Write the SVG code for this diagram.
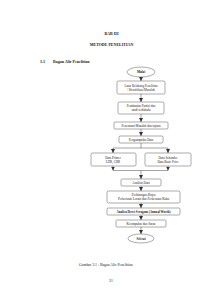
<svg xmlns="http://www.w3.org/2000/svg" width="212" height="300" viewBox="0 0 212 300">
<style>
text{font-family:"Liberation Serif","Times New Roman",serif;fill:#222}
.h{font-size:4px;font-weight:bold}
.t{font-size:3.2px;text-anchor:middle}
.b{fill:#fff;stroke:#444;stroke-width:0.45}
.c{stroke:#333;stroke-width:0.45;fill:none}
</style>
<defs>
<marker id="ah" viewBox="0 0 6 6" refX="6" refY="3" markerWidth="4" markerHeight="4" markerUnits="userSpaceOnUse" orient="auto">
<path d="M0,0 L6,3 L0,6 Z" fill="#333"/>
</marker>
</defs>
<rect width="212" height="300" fill="#fff"/>
<text class="h" x="111.5" y="35" text-anchor="middle">BAB III</text>
<text class="h" x="111.5" y="46" text-anchor="middle">METODE PENELITIAN</text>
<text class="h" x="40" y="63">3.1</text>
<text class="h" x="53" y="63">Bagan Alir Penelitian</text>

<g id="connectors">
<line class="c" x1="141" y1="77" x2="141" y2="81" marker-end="url(#ah)"/>
<line class="c" x1="141" y1="94" x2="141" y2="102" marker-end="url(#ah)"/>
<line class="c" x1="141" y1="114" x2="141" y2="122" marker-end="url(#ah)"/>
<line class="c" x1="141" y1="129" x2="141" y2="136" marker-end="url(#ah)"/>
<polyline class="c" points="141,143 141,148"/>
<line class="c" x1="113" y1="148" x2="168" y2="148"/>
<line class="c" x1="113" y1="148" x2="113" y2="153" marker-end="url(#ah)"/>
<line class="c" x1="168" y1="148" x2="168" y2="153" marker-end="url(#ah)"/>
<line class="c" x1="113" y1="166" x2="113" y2="170.5" marker-end="url(#ah)"/>
<line class="c" x1="168" y1="166" x2="168" y2="170.5" marker-end="url(#ah)"/>
<line class="c" x1="113" y1="170.5" x2="168" y2="170.5"/>
<line class="c" x1="141" y1="170.5" x2="141" y2="179" marker-end="url(#ah)"/>
<line class="c" x1="141" y1="186" x2="141" y2="191" marker-end="url(#ah)"/>
<line class="c" x1="141" y1="203" x2="141" y2="208" marker-end="url(#ah)"/>
<line class="c" x1="141" y1="215" x2="141" y2="220" marker-end="url(#ah)"/>
<line class="c" x1="141" y1="227" x2="141" y2="234" marker-end="url(#ah)"/>
</g>

<g id="mulai">
<ellipse class="b" cx="141" cy="72" rx="14" ry="5" stroke-width="0.6"/>
<text class="t" x="141" y="73.2" font-weight="bold">Mulai</text>
</g>
<g id="latar">
<rect class="b" x="117" y="81" width="48" height="13" rx="1.5"/>
<text class="t" x="141" y="86.5">Latar Belakang Penelitian</text>
<text class="t" x="141" y="90.5">/ Identifikasi Masalah</text>
</g>
<g id="pembuatan">
<rect class="b" x="118" y="102" width="46" height="12" rx="1.5"/>
<text class="t" x="141" y="107">Pembuatan Partisi dan</text>
<text class="t" x="141" y="111">studi terdahulu</text>
</g>
<g id="penentuan">
<rect class="b" x="114" y="122" width="54" height="7" rx="1.2"/>
<text class="t" x="141" y="126.5">Penentuan Masalah dan tujuan</text>
</g>
<g id="pengumpulan">
<rect class="b" x="119" y="136" width="44" height="7" rx="1.2"/>
<text class="t" x="141" y="140.5">Pengumpulan Data</text>
</g>
<g id="primer">
<rect class="b" x="91" y="153" width="45" height="13" rx="1.5"/>
<text class="t" x="113" y="158.5">Data Primer</text>
<text class="t" x="113" y="162.5">LHR, CBR</text>
</g>
<g id="sekunder">
<rect class="b" x="145" y="153" width="46" height="13" rx="1.5"/>
<text class="t" x="168" y="158.5">Data Sekunder</text>
<text class="t" x="168" y="162.5">Data Basic Price</text>
</g>
<g id="analisis">
<rect class="b" x="121" y="179" width="40" height="7" rx="1.2"/>
<text class="t" x="141" y="183.5">Analisis Data</text>
</g>
<g id="perhitungan">
<rect class="b" x="107" y="191" width="73" height="12" rx="1.5"/>
<text class="t" x="143.5" y="196">Perhitungan Biaya</text>
<text class="t" x="143.5" y="200">Perkerasan Lentur dan Perkerasan Kaku</text>
</g>
<g id="annual">
<rect class="b" x="107" y="208" width="73" height="7" rx="1.2"/>
<text class="t" x="143.5" y="212.5" font-weight="bold">Analisa Deret Seragam (Annual Worth)</text>
</g>
<g id="kesimpulan">
<rect class="b" x="116" y="220" width="50" height="7" rx="1.2"/>
<text class="t" x="141" y="224.5">Kesimpulan dan Saran</text>
</g>
<g id="selesai">
<ellipse class="b" cx="141" cy="238.5" rx="13" ry="4.5" stroke-width="0.6"/>
<text class="t" x="141" y="239.7" font-weight="bold">Selesai</text>
</g>

<text x="79" y="266" font-size="3.8">Gambar 3.1 :  Bagan Alir Penelitian</text>
<text x="111" y="282" font-size="3.8" text-anchor="middle">31</text>
</svg>
